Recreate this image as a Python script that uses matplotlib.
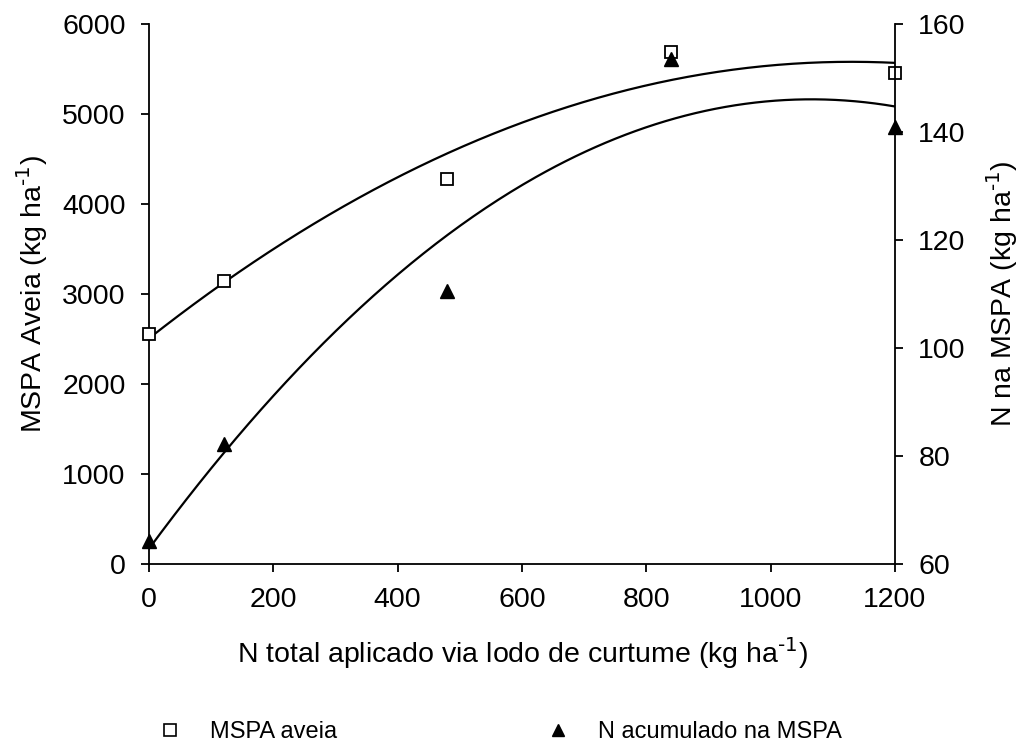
import numpy as np
import matplotlib
matplotlib.use("Agg")
import matplotlib.pyplot as plt
from matplotlib.lines import Line2D

plt.rcParams['font.family'] = ['Liberation Sans', 'DejaVu Sans']

# Data
n_aplicado = [0, 120, 480, 840, 1200]
mspa_aveia = [2560, 3150, 4280, 5690, 5460]
n_acumulado = [64.2, 82.2, 110.5, 153.5, 140.9]

x_ticks = [0, 200, 400, 600, 800, 1000, 1200]
y_left_ticks = [0, 1000, 2000, 3000, 4000, 5000, 6000]
y_right_ticks = [60, 80, 100, 120, 140, 160]

fig = plt.figure(figsize=(10.24, 7.48), dpi=100)
ax = fig.add_axes([0.1455, 0.246, 0.7285, 0.7219])
ax2 = ax.twinx()

fs_tick = 20.5
fs_lab = 20.5
sup = r'$^{\text{-1}}$'

# quadratic regressions
xs = np.linspace(0, 1200, 300)
c1 = np.polyfit(n_aplicado, mspa_aveia, 2)
c2 = np.polyfit(n_aplicado, n_acumulado, 2)
ax.plot(xs, np.polyval(c1, xs), color='black', lw=1.6, zorder=2)
ax2.plot(xs, np.polyval(c2, xs), color='black', lw=1.6, zorder=2)

ax.plot(n_aplicado, mspa_aveia, ls='none', marker='s', ms=8, mfc='white',
        mec='black', mew=1.3, zorder=3, clip_on=False)
ax2.plot(n_aplicado, n_acumulado, ls='none', marker='^', ms=10.5, mfc='black',
         mec='black', zorder=3, clip_on=False)

ax.set_xlim(0, 1200)
ax.set_ylim(0, 6000)
ax2.set_ylim(60, 160)
ax.set_xticks(x_ticks)
ax.set_yticks(y_left_ticks)
ax2.set_yticks(y_right_ticks)

for a in (ax, ax2):
    a.spines['top'].set_visible(False)
    for s in a.spines.values():
        s.set_linewidth(1.3)
ax.spines['right'].set_visible(False)
ax2.spines['left'].set_visible(False)
ax2.spines['bottom'].set_visible(False)

ax.tick_params(axis='both', direction='out', length=5.8, width=1.3, labelsize=fs_tick, pad=11)
ax2.tick_params(axis='y', direction='out', length=5.8, width=1.3, labelsize=fs_tick, pad=11)

ax.set_xlabel('N total aplicado via lodo de curtume (kg ha' + sup + ')', fontsize=fs_lab, labelpad=16)
ax.set_ylabel('MSPA Aveia (kg ha' + sup + ')', fontsize=fs_lab, labelpad=9)
ax2.set_ylabel('N na MSPA (kg ha' + sup + ')', fontsize=fs_lab, labelpad=13)

h_sq = Line2D([], [], ls='none', marker='s', ms=8, mfc='white', mec='black', mew=1.2)
h_tr = Line2D([], [], ls='none', marker='^', ms=8.5, mfc='black', mec='black')
leg_kw = dict(loc='center left', frameon=False, fontsize=17, handlelength=1.0,
              handletextpad=1.2, borderpad=0, borderaxespad=0)
fig.legend([h_sq], ['MSPA aveia'], bbox_to_anchor=(0.1545, 0.021), **leg_kw)
fig.legend([h_tr], ['N acumulado na MSPA'], bbox_to_anchor=(0.533, 0.021), **leg_kw)

fig.savefig('out.png', dpi=100, facecolor='white')
